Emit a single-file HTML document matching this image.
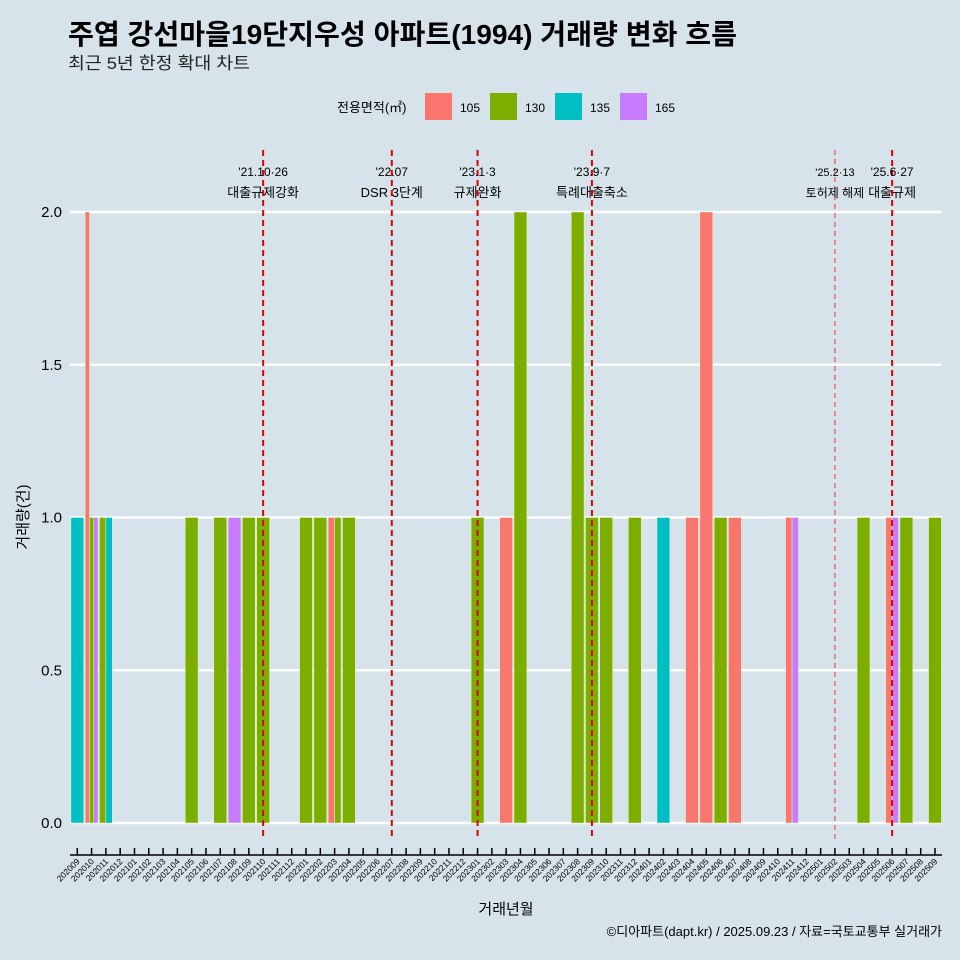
<!DOCTYPE html>
<html><head><meta charset="utf-8"><style>
html,body{margin:0;padding:0;background:#d6e3ea;overflow:hidden;}
svg{display:block;}
svg text{font-family:"Liberation Sans","Noto Sans CJK KR",sans-serif;}
</style></head><body>
<svg id="chart" width="960" height="960" viewBox="0 0 960 960">
<rect width="960" height="960" fill="#d6e3ea"/>
<text x="68" y="44" font-size="28" font-weight="bold" fill="#000" textLength="669" lengthAdjust="spacingAndGlyphs">주엽 강선마을19단지우성 아파트(1994) 거래량 변화 흐름</text>
<text x="68" y="69" font-size="17" fill="#222" textLength="182" lengthAdjust="spacingAndGlyphs">최근 5년 한정 확대 차트</text>
<g id="legend">
<text x="337" y="112" font-size="13" fill="#000">전용면적(㎡)</text>
</g>
<g id="grid"></g><g id="bars"></g><g id="events"></g><g id="axes"></g>
<text x="28" y="517" font-size="15" fill="#000" text-anchor="middle" transform="rotate(-90 28 517)">거래량(건)</text>
<text x="506" y="914" font-size="15" fill="#000" text-anchor="middle">거래년월</text>
<text x="942" y="936" font-size="13" fill="#000" text-anchor="end">©디아파트(dapt.kr) / 2025.09.23 / 자료=국토교통부 실거래가</text>
</svg>
<script>
const areas=['105','130','135','165'];
const colors=['#f8766d','#7cae00','#00bfc4','#c77cff'];
const months=[];
for(let y=2020,m=9;!(y===2025&&m===10);){months.push(''+y+(m<10?'0':'')+m);m++;if(m>12){m=1;y++;}}
const s105={'202010':2,'202203':1,'202303':1,'202404':1,'202405':2,'202407':1,'202411':1,'202506':1};
const s130={'202010':1,'202011':1,'202105':1,'202107':1,'202109':1,'202110':1,'202201':1,'202202':1,'202203':1,'202204':1,'202301':1,'202304':2,'202308':2,'202309':1,'202310':1,'202312':1,'202406':1,'202504':1,'202507':1,'202509':1};
const s135={'202009':1,'202011':1,'202402':1};
const s165={'202010':1,'202108':1,'202411':1,'202506':1};
const series=[s105,s130,s135,s165];
const yTicks=[0,0.5,1,1.5,2];
const yTickLabels=['0.0','0.5','1.0','1.5','2.0'];
const evMonths=['202110','202207','202301','202309','202502','202506'];
const evLine1=["'21.10·26","'22.07","'23.1·3","'23.9·7","'25.2·13","'25.6·27"];
const evLine2=['대출규제강화','DSR 3단계','규제완화','특례대출축소','토허제 해제','대출규제'];
const NS='http://www.w3.org/2000/svg';
function mk(tag,attrs,parent){const e=document.createElementNS(NS,tag);for(const k in attrs)e.setAttribute(k,attrs[k]);parent.appendChild(e);return e;}
const x0=77.3,step=(935-77.3)/(months.length-1);
const X=i=>x0+i*step;
const Y=v=>823-v*305.5;
const bw=step*0.9;
const grid=document.getElementById('grid'),bars=document.getElementById('bars'),ev=document.getElementById('events'),ax=document.getElementById('axes'),lg=document.getElementById('legend');
areas.forEach((a,k)=>{const lx=425+k*65;
const r=mk('rect',{x:lx,y:93,width:27,height:27,fill:colors[k]},lg);


const t=mk('text',{x:lx+35,y:112,'font-size':12,fill:'#000'},lg);t.textContent=a;

});
yTicks.forEach((v,k)=>{const l=mk('line',{x1:70,x2:942,y1:Y(v),y2:Y(v),stroke:'#fff','stroke-width':2.5},grid);


const t=mk('text',{x:62,y:Y(v)+5,'font-size':15,fill:'#000','text-anchor':'end'},ax);t.textContent=yTickLabels[k];

});
months.forEach((m,i)=>{const present=[];series.forEach((s,k)=>{if(s[m])present.push(k);});
const w=bw/Math.max(present.length,1);
present.forEach((k,j)=>{const v=series[k][m];
const r=mk('rect',{x:X(i)-bw/2+j*w,y:Y(v),width:w,height:Y(0)-Y(v),fill:colors[k],stroke:'#e8f5c8','stroke-width':0.5},bars);

});
const tk=mk('line',{x1:X(i),x2:X(i),y1:848,y2:855,stroke:'#000','stroke-width':1.5},ax);


const t=mk('text',{x:X(i)+3,y:862,'font-size':8.5,fill:'#000','text-anchor':'end',transform:'rotate(-45 '+(X(i)+3)+' 862)'},ax);t.textContent=m;

});
const axl=mk('line',{x1:70,x2:942,y1:855,y2:855,stroke:'#000','stroke-width':1.5},ax);


evMonths.forEach((m,k)=>{const i=months.indexOf(m);const x=X(i);const thin=(m==='202502');
const l=mk('line',{x1:x,x2:x,y1:150,y2:840,stroke:thin?'#ee3333':'#e00000','stroke-width':thin?1:2,'stroke-dasharray':thin?'5,4':'6,4'},ev);


const t1=mk('text',{x:x,y:176,'font-size':thin?11:12,fill:'#000','text-anchor':'middle'},ev);t1.textContent=evLine1[k];


const t2=mk('text',{x:x,y:197,'font-size':thin?12:13,fill:'#000','text-anchor':'middle'},ev);t2.textContent=evLine2[k];

});
</script>
</body></html>
